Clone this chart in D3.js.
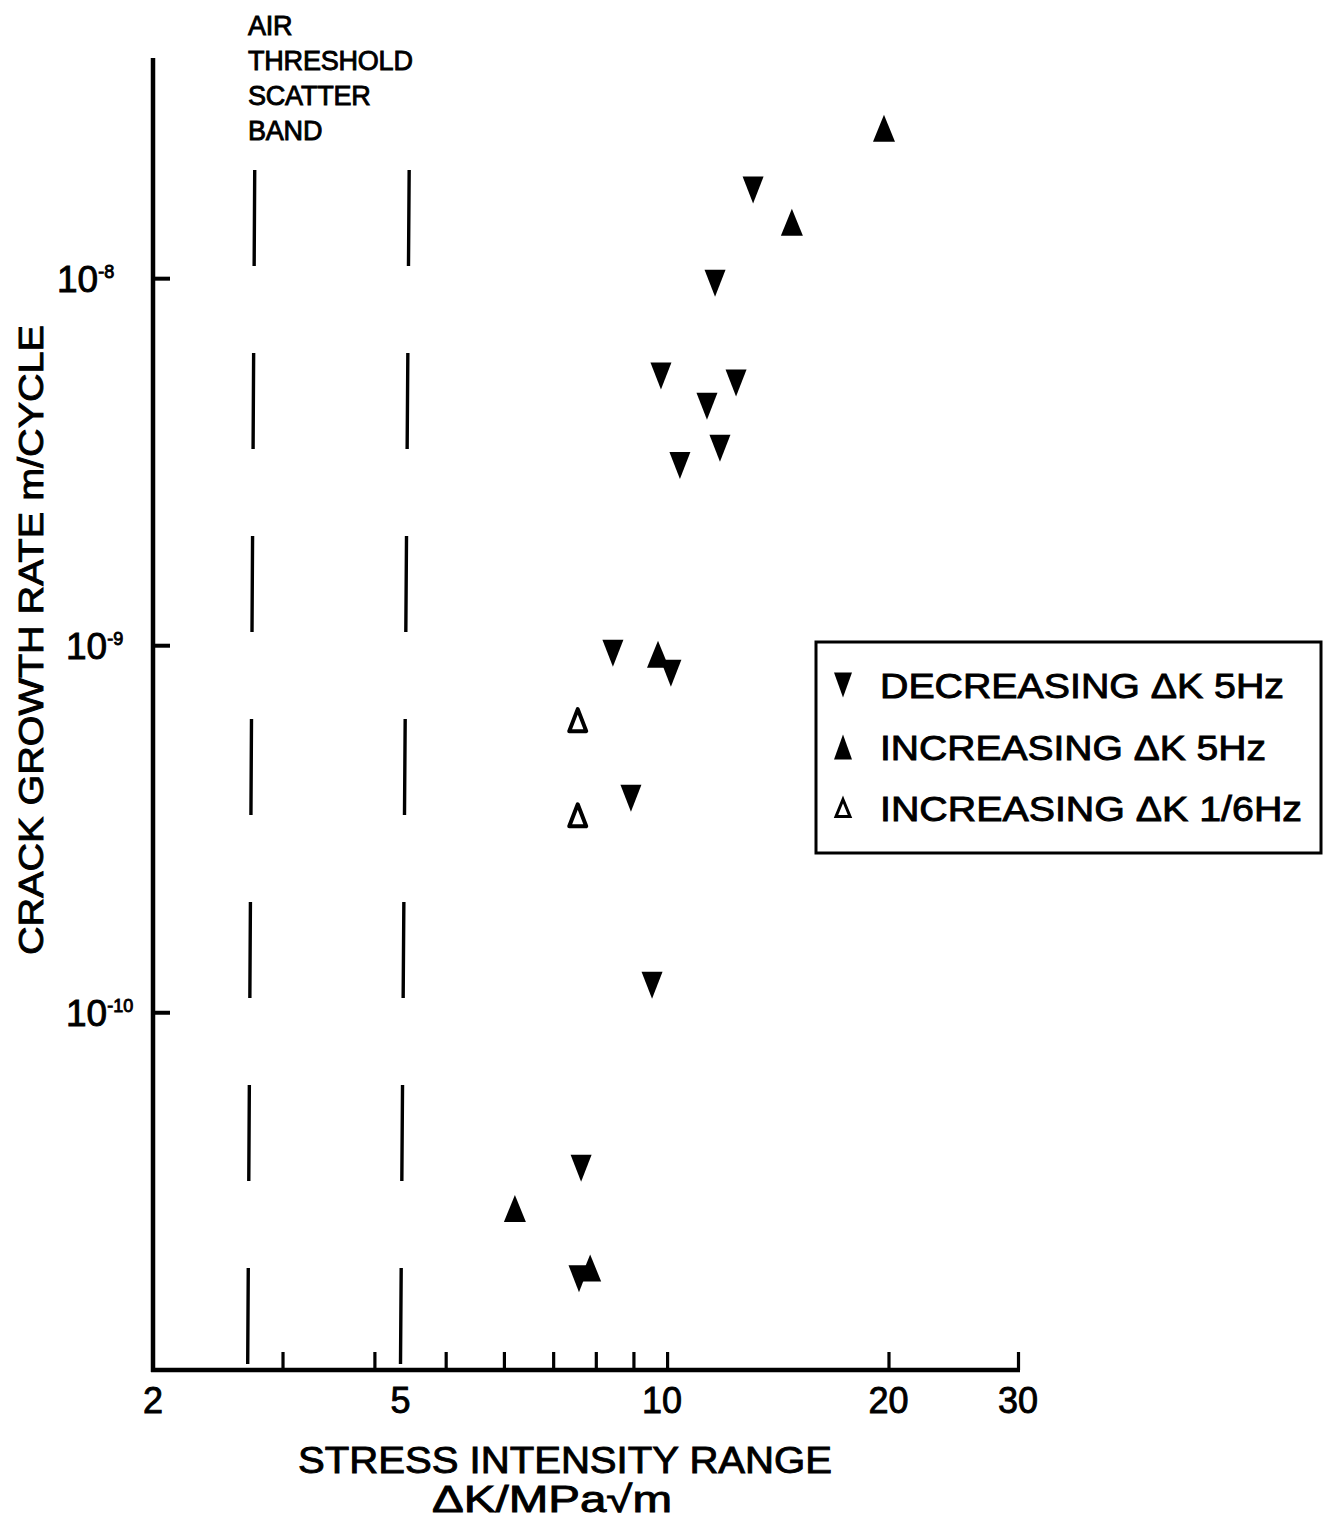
<!DOCTYPE html>
<html>
<head>
<meta charset="utf-8">
<script src="https://cdn.jsdelivr.net/npm/d3@7"></script>
<style>
  html, body { margin: 0; padding: 0; background: #fff; }
  svg { display: block; }
  text { font-family: "Liberation Sans", Arial, Helvetica, sans-serif; fill: #000; stroke: #000; stroke-width: 0.9px; }
</style>
</head>
<body>
<svg id="chart" width="1326" height="1521"></svg>
<script>
// ---------------- DATA ----------------
// ΔK (MPa√m) and crack growth rate (m/cycle)
const decreasing5Hz_K    = [13.09, 11.62, 9.81, 12.41, 11.33, 11.80, 10.41, 8.44, 10.12, 8.93, 9.54, 7.64, 7.59];
const decreasing5Hz_rate = [1.74e-8, 9.69e-9, 5.41e-9, 5.18e-9, 4.48e-9, 3.44e-9, 3.09e-9, 9.51e-10, 8.39e-10, 3.83e-10, 1.185e-10, 3.76e-11, 1.88e-11];

const increasing5Hz_K    = [19.72, 14.78, 9.72, 6.21, 7.86];
const increasing5Hz_rate = [2.56e-8, 1.42e-8, 9.45e-10, 2.92e-11, 2.01e-11];

const increasing16Hz_K    = [7.56, 7.56];
const increasing16Hz_rate = [6.25e-10, 3.44e-10];

// Air threshold scatter band (two dashed bounding lines): ΔK at top and bottom
const bandK_top    = [2.75, 4.46];
const bandK_bottom = [2.69, 4.34];
const bandRateTop  = 1.97e-8;

const xMinorTicks = [3, 4, 5, 6, 7, 8, 9, 10, 20, 30];
const xTickLabels = ["2", "5", "10", "20", "30"];
const xTickLabelValues = [2, 5, 10, 20, 30];
const yTickValues = [1e-8, 1e-9, 1e-10];
const yTickExponents = ["-8", "-9", "-10"];

const legendLabels = ["DECREASING \u0394K 5Hz", "INCREASING \u0394K 5Hz", "INCREASING \u0394K 1/6Hz"];

const xDomain = [2, 30];
const yDomain = [1.06e-11, 3.98e-8];

// ---------------- LAYOUT ----------------
const svg = d3.select("#chart");
const plotL = 153, plotR = 1018, plotT = 58, plotB = 1370;

const x = d3.scaleLog().domain(xDomain).range([plotL, plotR]);
const y = d3.scaleLog().domain(yDomain).range([plotB, plotT]);

// marker shapes
const downTri = (w, h) => `M${-w/2},${-h/2}L${w/2},${-h/2}L0,${h/2}Z`;
const upTri   = (w, h) => `M0,${-h/2}L${w/2},${h/2}L${-w/2},${h/2}Z`;

// ---------------- SCATTER BAND ----------------
const bandYTop = y(bandRateTop);
svg.append("g").selectAll("line")
  .data(d3.range(bandK_top.length))
  .join("line")
  .attr("x1", i => x(bandK_top[i]))
  .attr("y1", bandYTop)
  .attr("x2", i => x(bandK_bottom[i]))
  .attr("y2", y(yDomain[0]))
  .attr("stroke", "#000")
  .attr("stroke-width", 3.4)
  .attr("stroke-dasharray", "96 87");

// ---------------- AXES ----------------
const xAxis = d3.axisTop(x).tickValues(xMinorTicks).tickSize(18).tickFormat("");
const gx = svg.append("g").attr("transform", `translate(0,${plotB})`).call(xAxis);
gx.select(".domain").remove();
gx.selectAll(".tick line").attr("stroke", "#000").attr("stroke-width", 3.2);

svg.append("line")
  .attr("x1", plotL - 2).attr("x2", plotR + 2)
  .attr("y1", plotB).attr("y2", plotB)
  .attr("stroke", "#000").attr("stroke-width", 4.5);

const yAxis = d3.axisRight(y).tickValues(yTickValues).tickSize(17).tickFormat("");
const gy = svg.append("g").attr("transform", `translate(${plotL},0)`).call(yAxis);
gy.select(".domain").remove();
gy.selectAll(".tick line").attr("stroke", "#000").attr("stroke-width", 4);

svg.append("line")
  .attr("x1", plotL).attr("x2", plotL)
  .attr("y1", plotT).attr("y2", plotB + 2)
  .attr("stroke", "#000").attr("stroke-width", 4.5);

// x tick labels (the "5" sits below the right scatter band line, as in the original)
svg.append("g").selectAll("text")
  .data(xTickLabelValues)
  .join("text")
  .attr("x", d => d === 5 ? x(bandK_bottom[1]) : (d === 10 ? x(d) - 5 : x(d)))
  .attr("y", 1413)
  .attr("text-anchor", "middle")
  .attr("font-size", 36)
  .text((d, i) => xTickLabels[i]);

// y tick labels with superscripts
const yl = svg.append("g").selectAll("text")
  .data(yTickValues)
  .join("text")
  .attr("x", (d, i) => i === 0 ? 57 : 66)
  .attr("y", d => y(d) + 14)
  .attr("font-size", 37);
yl.append("tspan").text("10");
yl.append("tspan")
  .attr("font-size", 18)
  .attr("dy", -14)
  .text((d, i) => yTickExponents[i]);

// ---------------- DATA MARKS ----------------
const pts = (K, R) => K.map((k, i) => ({k, r: R[i]}));

svg.append("g").selectAll("path")
  .data(pts(decreasing5Hz_K, decreasing5Hz_rate))
  .join("path")
  .attr("transform", d => `translate(${x(d.k)},${y(d.r)})`)
  .attr("d", downTri(21, 27))
  .attr("fill", "#000");

svg.append("g").selectAll("path")
  .data(pts(increasing5Hz_K, increasing5Hz_rate))
  .join("path")
  .attr("transform", d => `translate(${x(d.k)},${y(d.r)})`)
  .attr("d", upTri(22, 27))
  .attr("fill", "#000");

svg.append("g").selectAll("path")
  .data(pts(increasing16Hz_K, increasing16Hz_rate))
  .join("path")
  .attr("transform", d => `translate(${x(d.k)},${y(d.r)})`)
  .attr("d", upTri(17, 22))
  .attr("fill", "none")
  .attr("stroke", "#000")
  .attr("stroke-width", 4)
  .attr("stroke-linejoin", "round");

// ---------------- LEGEND ----------------
const lg = svg.append("g");
lg.append("rect")
  .attr("x", 816).attr("y", 642)
  .attr("width", 505).attr("height", 211)
  .attr("fill", "none").attr("stroke", "#000").attr("stroke-width", 3);

const legendRowY = [685, 747, 808];
const legendTextLen = [404, 386, 422];
const legendShapes = [
  {d: downTri(18, 25), fill: "#000", stroke: "none", sw: 0},
  {d: upTri(18, 25), fill: "#000", stroke: "none", sw: 0},
  {d: upTri(14, 17), fill: "none", stroke: "#000", sw: 3}
];
legendLabels.forEach((lab, i) => {
  const s = legendShapes[i];
  lg.append("path")
    .attr("transform", `translate(843,${legendRowY[i]})`)
    .attr("d", s.d)
    .attr("fill", s.fill)
    .attr("stroke", s.stroke)
    .attr("stroke-width", s.sw);
  lg.append("text")
    .attr("x", 880)
    .attr("y", legendRowY[i] + 13)
    .attr("font-size", 35)
    .attr("textLength", legendTextLen[i])
    .attr("lengthAdjust", "spacingAndGlyphs")
    .text(lab);
});

// ---------------- ANNOTATION ----------------
const annLines = ["AIR", "THRESHOLD", "SCATTER", "BAND"];
svg.append("g").selectAll("text")
  .data(annLines)
  .join("text")
  .attr("x", 248)
  .attr("y", (d, i) => 35 + i * 35)
  .attr("font-size", 27)
  .attr("letter-spacing", -0.2)
  .text(d => d);

// ---------------- AXIS TITLES ----------------
svg.append("text")
  .attr("transform", "translate(43,640) rotate(-90)")
  .attr("text-anchor", "middle")
  .attr("font-size", 35)
  .attr("textLength", 630)
  .attr("lengthAdjust", "spacingAndGlyphs")
  .text("CRACK GROWTH RATE m/CYCLE");

svg.append("text")
  .attr("x", 565).attr("y", 1473)
  .attr("text-anchor", "middle")
  .attr("font-size", 36)
  .attr("textLength", 534)
  .attr("lengthAdjust", "spacingAndGlyphs")
  .text("STRESS INTENSITY RANGE");

svg.append("text")
  .attr("x", 552).attr("y", 1512)
  .attr("text-anchor", "middle")
  .attr("font-size", 37)
  .attr("textLength", 240)
  .attr("lengthAdjust", "spacingAndGlyphs")
  .text("\u0394K/MPa\u221Am");
</script>
</body>
</html>
